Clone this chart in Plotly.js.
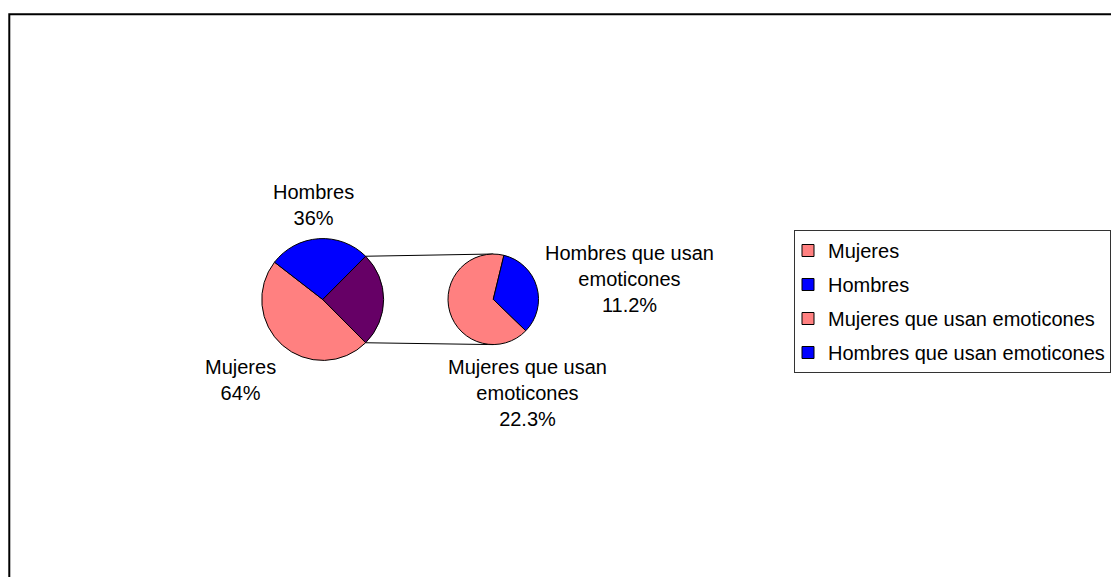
<!DOCTYPE html>
<html><head><meta charset="utf-8">
<script src="https://cdn.plot.ly/plotly-3.0.1.min.js"></script>
<style>html,body{margin:0;padding:0;background:#fff;} #chart{width:1111px;height:577px;}</style>
</head><body><div id="chart"></div>
<script>
// ---- data ----
const mainLabels = ['Mujeres', 'Hombres'];
const mainValues = [64, 36];            // % shown on main pie
const subLabels = ['Mujeres que usan emoticones', 'Hombres que usan emoticones'];
const subValues = [22.3, 11.2];         // % shown on secondary pie
const otherLabel = 'Otros';
const mainColors = ['#FF8080', '#0000FF'];
const otherColor = '#660066';
const subColors = ['#FF8080', '#0000FF'];

// ---- style / geometry (pixels) ----
const W = 1111, H = 577;
const FONT = 'Liberation Sans, Arial, sans-serif';
const mainGeo = {cx: 323, cy: 299.5, r: 61};
const subGeo = {cx: 493.7, cy: 299.3, r: 45.3};
const subRotation = 134;

const px = x => x / W, py = y => 1 - y / H;
function domainOf(g, r) {
  r = r === undefined ? g.r : r;
  return {x: [px(g.cx - r), px(g.cx + r)], y: [py(g.cy + r), py(g.cy - r)]};
}
const sum = a => a.reduce((s, v) => s + v, 0);
const otherValue = sum(subValues);
const mainTotal = sum(mainValues) + otherValue;
const otherDeg = 360 * otherValue / mainTotal;
const line = {color: '#000', width: 1};

const traces = [];
// legend carriers (tiny, hidden under the main pie)
const legLabels = mainLabels.concat(subLabels);
const legValues = mainValues.concat(subValues);
const legColors = mainColors.concat(subColors);
legLabels.forEach((lab, i) => {
  traces.push({
    type: 'pie', labels: [lab], values: [legValues[i]], sort: false,
    marker: {colors: [legColors[i]], line: line},
    domain: domainOf(mainGeo, 2), textinfo: 'none', hoverinfo: 'skip',
    legendgroup: 'g' + i, showlegend: true
  });
});
// main pie
traces.push({
  type: 'pie', labels: mainLabels.concat([otherLabel]), values: mainValues.concat([otherValue]),
  sort: false, direction: 'clockwise', rotation: 90 + otherDeg / 2,
  marker: {colors: mainColors.concat([otherColor]), line: line},
  domain: domainOf(mainGeo), textinfo: 'none', hoverinfo: 'label+value', showlegend: false
});
// secondary pie
traces.push({
  type: 'pie', labels: subLabels, values: subValues,
  sort: false, direction: 'clockwise', rotation: subRotation,
  marker: {colors: subColors, line: line},
  domain: domainOf(subGeo), textinfo: 'none', hoverinfo: 'label+value', showlegend: false
});

// connector lines (from the "other" slice edges to the top/bottom of the secondary pie)
const rad = Math.PI / 180;
const aTop = otherDeg / 2 * rad, aBot = -otherDeg / 2 * rad;
const shapes = [
  {type: 'line', xref: 'paper', yref: 'paper', layer: 'below',
   x0: px(mainGeo.cx + mainGeo.r * Math.cos(aTop)), y0: py(mainGeo.cy - mainGeo.r * Math.sin(aTop)),
   x1: px(subGeo.cx), y1: py(subGeo.cy - subGeo.r), line: {color: '#000', width: 1}},
  {type: 'line', xref: 'paper', yref: 'paper', layer: 'below',
   x0: px(mainGeo.cx + mainGeo.r * Math.cos(aBot)), y0: py(mainGeo.cy - mainGeo.r * Math.sin(aBot)),
   x1: px(subGeo.cx), y1: py(subGeo.cy + subGeo.r), line: {color: '#000', width: 1}},
  // chart area frame
  {type: 'rect', xref: 'paper', yref: 'paper', layer: 'above',
   x0: px(9.3), y0: -0.02, x1: 1.02, y1: py(14.3), line: {color: '#000', width: 2}}
];

function wrap(s, max) {
  const words = s.split(' '); const lines = []; let cur = '';
  words.forEach(w => {
    if (cur && (cur + ' ' + w).length > max) { lines.push(cur); cur = w; }
    else cur = cur ? cur + ' ' + w : w;
  });
  lines.push(cur); return lines.join('<br>');
}
const labelPos = [
  {x: 241, y: 380}, {x: 314, y: 205},      // Mujeres, Hombres
  {x: 527.5, y: 393}, {x: 630, y: 279}     // sub labels
];
const annText = [
  wrap(mainLabels[0], 16) + '<br>' + mainValues[0].toFixed(0) + '%',
  wrap(mainLabels[1], 16) + '<br>' + mainValues[1].toFixed(0) + '%',
  wrap(subLabels[0], 16) + '<br>' + subValues[0].toFixed(1) + '%',
  wrap(subLabels[1], 16) + '<br>' + subValues[1].toFixed(1) + '%'
];
const annotations = annText.map((t, i) => ({
  text: t, xref: 'paper', yref: 'paper', x: px(labelPos[i].x), y: py(labelPos[i].y),
  xanchor: 'center', yanchor: 'middle', showarrow: false, align: 'center',
  font: {family: FONT, size: 20, color: '#000'}
}));

const layout = {
  width: W, height: H, margin: {l: 0, r: 0, t: 0, b: 0},
  paper_bgcolor: '#fff', plot_bgcolor: '#fff',
  font: {family: FONT, size: 20, color: '#000'},
  showlegend: true,
  legend: {x: px(795), xanchor: 'left', y: py(230), yanchor: 'top',
           bgcolor: '#fff', bordercolor: '#333', borderwidth: 1,
           traceorder: 'grouped', tracegroupgap: 5, indentation: -7,
           font: {family: FONT, size: 20, color: '#000'}},
  shapes: shapes, annotations: annotations
};
Plotly.newPlot('chart', traces, layout, {displayModeBar: false, responsive: false});
</script>
</body></html>
